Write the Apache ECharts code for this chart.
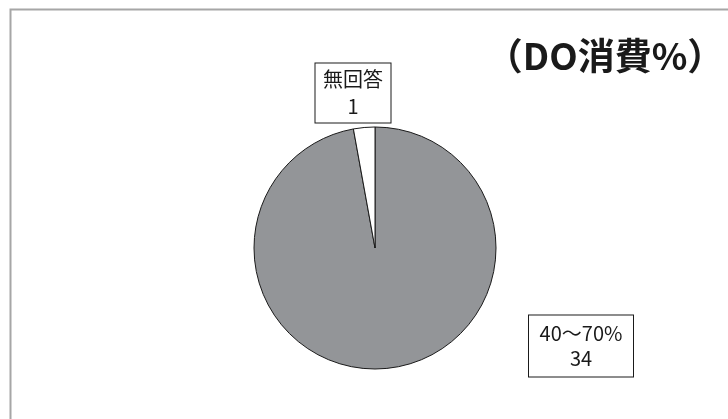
<!DOCTYPE html>
<html>
<head>
<meta charset="utf-8">
<script src="https://cdn.jsdelivr.net/npm/echarts@6/dist/echarts.min.js"></script>
<style>
  html, body { margin: 0; padding: 0; background: #fff; }
  #chart { width: 728px; height: 419px; }
</style>
</head>
<body>
<div id="chart"></div>
<script>
// Response counts for DO consumption
const categories = ['40～70%', '無回答'];
const counts = [34, 1];
const sliceColors = ['#939598', '#ffffff'];
const chartTitle = '（DO消費%）';

const font = '"Noto Sans CJK JP", "Noto Sans", sans-serif';

// Callout boxes: centre point, width, line height and vertical padding, by data index
const labelSpots = [
  { x: 581, y: 346, w: 104, lh: 25, pad: [8, 0, 3, 0] },
  { x: 353, y: 93, w: 75, lh: 27, pad: [3, 0, 2, 0] }
];

const chart = echarts.init(document.getElementById('chart'), null, { renderer: 'canvas' });

chart.setOption({
  backgroundColor: '#ffffff',
  animation: false,
  graphic: [{
    type: 'rect',
    shape: { x: 10.5, y: 9.5, width: 740, height: 440 },
    style: { fill: 'none', stroke: '#a6a6a6', lineWidth: 2 }
  }, {
    type: 'text',
    x: 605,
    y: 56,
    style: {
      text: chartTitle,
      font: 'bold 37px ' + font,
      fill: '#1a1a1a',
      align: 'center',
      verticalAlign: 'middle'
    }
  }],
  series: [{
    type: 'pie',
    center: [375, 248],
    radius: [0, 121],
    startAngle: 90,
    clockwise: true,
    data: categories.map((name, i) => ({
      name: name,
      value: counts[i],
      itemStyle: { color: sliceColors[i] },
      label: { width: labelSpots[i].w, lineHeight: labelSpots[i].lh, padding: labelSpots[i].pad }
    })),
    itemStyle: { borderColor: '#1a1a1a', borderWidth: 1 },
    label: {
      show: true,
      position: 'outside',
      formatter: '{b}\n{c}',
      fontFamily: font,
      fontSize: 20,
      color: '#1a1a1a',
      backgroundColor: '#ffffff',
      borderColor: '#1a1a1a',
      borderWidth: 1,
      align: 'center',
      verticalAlign: 'middle'
    },
    labelLine: { show: false },
    labelLayout: function (params) {
      const s = labelSpots[params.dataIndex];
      return { x: s.x, y: s.y, align: 'center', verticalAlign: 'middle' };
    },
    emphasis: { disabled: true }
  }]
});
</script>
</body>
</html>
